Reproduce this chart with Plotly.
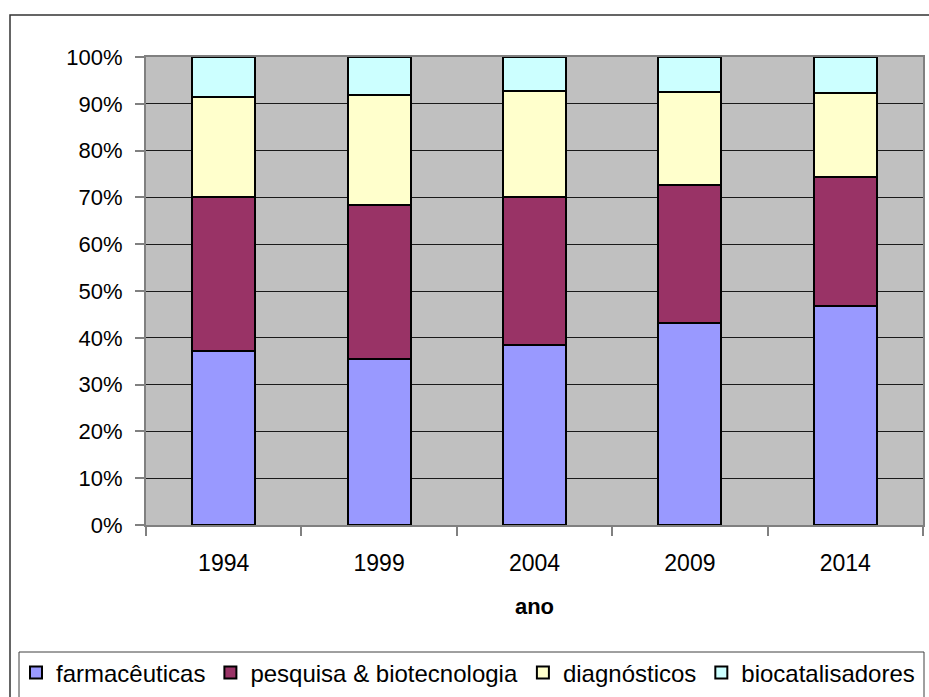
import plotly.graph_objects as go

anos = ["1994", "1999", "2004", "2009", "2014"]
farmaceuticas = [37.1, 35.4, 38.4, 43.1, 46.9]
pesquisa_biotec = [33.0, 32.9, 31.7, 29.5, 27.5]
diagnosticos = [21.3, 23.6, 22.6, 20.0, 17.9]
biocatalisadores = [8.6, 8.1, 7.3, 7.4, 7.7]

series_names = ["farmacêuticas", "pesquisa & biotecnologia", "diagnósticos", "biocatalisadores"]
series_values = [farmaceuticas, pesquisa_biotec, diagnosticos, biocatalisadores]
series_colors = ["#9999FF", "#993366", "#FFFFCC", "#CCFFFF"]

FONT = "Liberation Sans, Arial, sans-serif"

fig = go.Figure()
for name, vals, col in zip(series_names, series_values, series_colors):
    fig.add_trace(go.Bar(
        x=anos, y=vals, name=name,
        marker=dict(color=col, line=dict(color="#000000", width=2)),
    ))

# pixel geometry helpers (plot area: x 146..923, y 57..525)
L, R, T, B = 146, 923, 57, 525
def px(xp):
    return (xp - L) / (R - L)
def py(yp):
    return (B - yp) / (B - T)

fig.update_layout(
    width=929, height=697,
    margin=dict(l=L, r=929 - R, t=T, b=697 - B, autoexpand=False),
    paper_bgcolor="white",
    plot_bgcolor="#C0C0C0",
    barmode="stack",
    bargap=0.595,
    font=dict(family=FONT, color="#000000"),
    showlegend=True,
    legend=dict(
        orientation="h",
        traceorder="normal",
        x=px(16), xanchor="left",
        y=py(673), yanchor="middle",
        font=dict(size=24, family=FONT),
        bgcolor="rgba(0,0,0,0)",
        borderwidth=0,
        itemwidth=30,
        itemclick=False,
    ),
    xaxis=dict(
        type="category",
        tickson="boundaries",
        ticks="outside", ticklen=9, tickcolor="#808080", tickwidth=2,
        showline=True, linecolor="#808080", linewidth=2, mirror=True,
        showgrid=False,
        tickfont=dict(size=23, family=FONT),
        ticklabelstandoff=16,
        title=dict(text="<b>ano</b>", font=dict(size=22, family=FONT), standoff=24),
        automargin=False,
    ),
    yaxis=dict(
        range=[0, 100], dtick=10, ticksuffix="%",
        ticks="outside", ticklen=9, tickcolor="#808080", tickwidth=2,
        showline=True, linecolor="#808080", linewidth=2, mirror=True,
        showgrid=True, gridcolor="#1a1a1a", gridwidth=1,
        tickfont=dict(size=22, family=FONT),
        ticklabelstandoff=8,
        zeroline=False,
        automargin=False,
    ),
    shapes=[
        dict(type="rect", xref="paper", yref="paper",
             x0=px(10), x1=px(940), y0=py(715), y1=py(15),
             line=dict(color="#333333", width=1.5), layer="below"),
        dict(type="rect", xref="paper", yref="paper",
             x0=px(19), x1=px(924), y0=py(710), y1=py(652),
             line=dict(color="#404040", width=1), layer="below"),
    ],
)

fig.write_html(
    "out.html",
    config={"displayModeBar": False},
    post_script="document.body.style.margin='0px'; document.body.style.overflow='hidden';",
)
